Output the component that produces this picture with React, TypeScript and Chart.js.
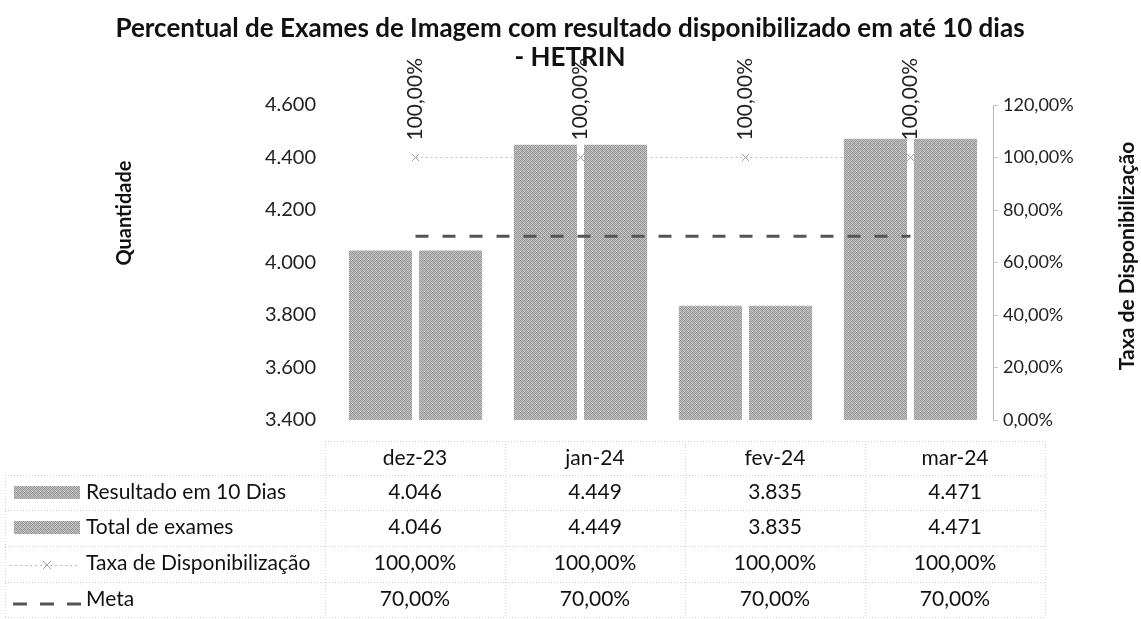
import React, { useEffect, useRef } from "react";
import { Chart, registerables } from "chart.js";

Chart.register(...registerables);

const categories = ["dez-23", "jan-24", "fev-24", "mar-24"];
const resultado10Dias = [4046, 4449, 3835, 4471];
const totalExames = [4046, 4449, 3835, 4471];
const taxaDisponibilizacao = [1.0, 1.0, 1.0, 1.0];
const meta = [0.7, 0.7, 0.7, 0.7];

const titleLines = [
  "Percentual de Exames de Imagem com resultado disponibilizado em até 10 dias",
  "- HETRIN",
];
const seriesNames = ["Resultado em 10 Dias", "Total de exames", "Taxa de Disponibilização", "Meta"];

const FONT = "Lato, 'Open Sans', sans-serif";

function fmtInt(v: number): string {
  const s = Math.round(v).toString();
  return s.replace(/\B(?=(\d{3})+(?!\d))/g, ".");
}
function fmtPct(v: number): string {
  return (v * 100).toFixed(2).replace(".", ",") + "%";
}

function makePattern(): CanvasPattern | string {
  const c = document.createElement("canvas");
  c.width = 4;
  c.height = 4;
  const g = c.getContext("2d");
  if (!g) return "#a8a8a8";
  const tones = [
    ["#909090", "#cacaca", "#a2a2a2", "#bebebe"],
    ["#bababa", "#969696", "#c6c6c6", "#949494"],
    ["#a4a4a4", "#c2c2c2", "#8e8e8e", "#cccccc"],
    ["#c8c8c8", "#9a9a9a", "#b6b6b6", "#a0a0a0"],
  ];
  for (let y = 0; y < 4; y++)
    for (let x = 0; x < 4; x++) {
      g.fillStyle = tones[y][x];
      g.fillRect(x, y, 1, 1);
    }
  return g.createPattern(c, "repeat") || "#a8a8a8";
}

export default function App() {
  const ref = useRef<HTMLCanvasElement | null>(null);

  useEffect(() => {
    document.body.style.margin = "0";
    const canvas = ref.current;
    if (!canvas) return;
    const pattern = makePattern();

    const overlay = {
      id: "overlay",
      afterDraw(chart: any) {
        const ctx: CanvasRenderingContext2D = chart.ctx;
        const ca = chart.chartArea;
        ctx.save();
        // Title
        ctx.fillStyle = "#111";
        ctx.textAlign = "center";
        ctx.textBaseline = "middle";
        ctx.font = `bold 26px ${FONT}`;
        ctx.fillText(titleLines[0], 570, 29);
        ctx.fillText(titleLines[1], 570, 58);

        // Axis titles
        ctx.font = `bold 20px ${FONT}`;
        ctx.save();
        ctx.translate(125, 213);
        ctx.rotate(-Math.PI / 2);
        ctx.fillText("Quantidade", 0, 0);
        ctx.restore();
        ctx.font = `bold 21px ${FONT}`;
        ctx.save();
        ctx.translate(1127, 256);
        ctx.rotate(-Math.PI / 2);
        ctx.fillText("Taxa de Disponibilização", 0, 0);
        ctx.restore();

        // Data labels for taxa
        const taxaMeta = chart.getDatasetMeta(2);
        ctx.font = `21px ${FONT}`;
        ctx.fillStyle = "#222";
        taxaMeta.data.forEach((pt: any, i: number) => {
          ctx.save();
          ctx.translate(pt.x, pt.y - 17);
          ctx.rotate(-Math.PI / 2);
          ctx.textAlign = "left";
          ctx.textBaseline = "middle";
          ctx.fillText(fmtPct(taxaDisponibilizacao[i]), 0, 0);
          ctx.restore();
        });

        // Data table
        const tLeft = ca.left - 8;
        const tRight = ca.right + 52;
        const colW = (tRight - tLeft) / categories.length;
        const rowsY = [441, 475, 510, 546, 582, 617];
        ctx.strokeStyle = "#cfcfcf";
        ctx.lineWidth = 1;
        ctx.setLineDash([1, 2]);
        ctx.beginPath();
        rowsY.forEach((y, r) => {
          const x0 = r === 0 ? tLeft : 5;
          ctx.moveTo(x0, y + 0.5);
          ctx.lineTo(tRight, y + 0.5);
        });
        for (let c = 0; c <= categories.length; c++) {
          const x = Math.round(tLeft + c * colW) + 0.5;
          ctx.moveTo(x, rowsY[0]);
          ctx.lineTo(x, rowsY[5]);
        }
        ctx.moveTo(5.5, rowsY[1]);
        ctx.lineTo(5.5, rowsY[5]);
        ctx.stroke();
        ctx.setLineDash([]);

        const centersY = [458, 492, 527, 563, 599];
        ctx.font = `21px ${FONT}`;
        ctx.fillStyle = "#111";
        ctx.textAlign = "center";
        ctx.textBaseline = "middle";
        categories.forEach((cat, i) => {
          const cx = tLeft + colW * (i + 0.5);
          ctx.fillText(cat, cx, centersY[0]);
          ctx.fillText(fmtInt(resultado10Dias[i]), cx, centersY[1]);
          ctx.fillText(fmtInt(totalExames[i]), cx, centersY[2]);
          ctx.fillText(fmtPct(taxaDisponibilizacao[i]), cx, centersY[3]);
          ctx.fillText(fmtPct(meta[i]), cx, centersY[4]);
        });

        // Legend keys
        ctx.fillStyle = pattern as any;
        ctx.fillRect(14, centersY[1] - 6, 66, 13);
        ctx.fillRect(14, centersY[2] - 6, 66, 13);
        ctx.strokeStyle = "#bdbdbd";
        ctx.lineWidth = 1;
        ctx.setLineDash([2, 3]);
        ctx.beginPath();
        ctx.moveTo(10, centersY[3] + 2.5);
        ctx.lineTo(80, centersY[3] + 2.5);
        ctx.stroke();
        ctx.setLineDash([]);
        ctx.strokeStyle = "#a0a0a0";
        ctx.beginPath();
        ctx.moveTo(43, centersY[3] - 2);
        ctx.lineTo(51, centersY[3] + 6);
        ctx.moveTo(51, centersY[3] - 2);
        ctx.lineTo(43, centersY[3] + 6);
        ctx.stroke();
        ctx.strokeStyle = "#555";
        ctx.lineWidth = 3;
        ctx.setLineDash([14, 13]);
        ctx.beginPath();
        ctx.moveTo(13, centersY[4] + 5);
        ctx.lineTo(81, centersY[4] + 5);
        ctx.stroke();
        ctx.setLineDash([]);

        ctx.fillStyle = "#111";
        ctx.textAlign = "left";
        seriesNames.forEach((n, i) => ctx.fillText(n, 86, centersY[i + 1]));
        ctx.restore();
      },
    };

    const chart = new Chart(canvas, {
      type: "bar",
      data: {
        labels: categories,
        datasets: [
          {
            type: "bar",
            label: seriesNames[0],
            data: resultado10Dias,
            backgroundColor: pattern as any,
            yAxisID: "y",
            order: 1,
          },
          {
            type: "bar",
            label: seriesNames[1],
            data: totalExames,
            backgroundColor: pattern as any,
            yAxisID: "y",
            order: 1,
          },
          {
            type: "line",
            label: seriesNames[2],
            data: taxaDisponibilizacao,
            yAxisID: "y1",
            borderColor: "#c0c0c0",
            borderWidth: 1,
            borderDash: [2, 3],
            pointStyle: "crossRot",
            pointRadius: 5,
            pointBorderColor: "#a0a0a0",
            pointBorderWidth: 1,
            order: 2,
          } as any,
          {
            type: "line",
            label: seriesNames[3],
            data: meta,
            yAxisID: "y1",
            borderColor: "#555555",
            borderWidth: 3,
            borderDash: [13, 14],
            pointRadius: 0,
            order: 0,
          } as any,
        ],
      },
      options: {
        animation: false,
        responsive: false,
        maintainAspectRatio: false,
        layout: { padding: { left: 0, right: 0, top: 105, bottom: 199 } },
        plugins: { legend: { display: false }, title: { display: false }, tooltip: { enabled: false } },
        datasets: { bar: { categoryPercentage: 0.85, barPercentage: 0.9 } } as any,
        scales: {
          x: { display: false },
          y: {
            position: "left",
            min: 3400,
            max: 4600,
            grid: { display: false, drawTicks: false },
            border: { display: false },
            ticks: {
              stepSize: 200,
              padding: 17,
              color: "#222",
              font: { family: FONT, size: 20 },
              callback: (v: any) => fmtInt(Number(v)),
            },
            afterFit: (s: any) => {
              s.width = 333;
            },
          },
          y1: {
            position: "right",
            min: 0,
            max: 1.2,
            grid: { drawOnChartArea: false, drawTicks: true, tickLength: 5, color: "#c8c8c8" },
            border: { display: true, color: "#b8b8b8", dash: [1, 2] },
            ticks: {
              stepSize: 0.2,
              padding: 5,
              color: "#222",
              font: { family: FONT, size: 18 },
              callback: (v: any) => fmtPct(Number(v)),
            },
            afterFit: (s: any) => {
              s.width = 148;
            },
          },
        },
      },
      plugins: [overlay],
    });
    return () => chart.destroy();
  }, []);

  return (
    <div style={{ width: 1141, height: 619, background: "#fff" }}>
      <canvas ref={ref} width={1141} height={619} style={{ display: "block" }} />
    </div>
  );
}
